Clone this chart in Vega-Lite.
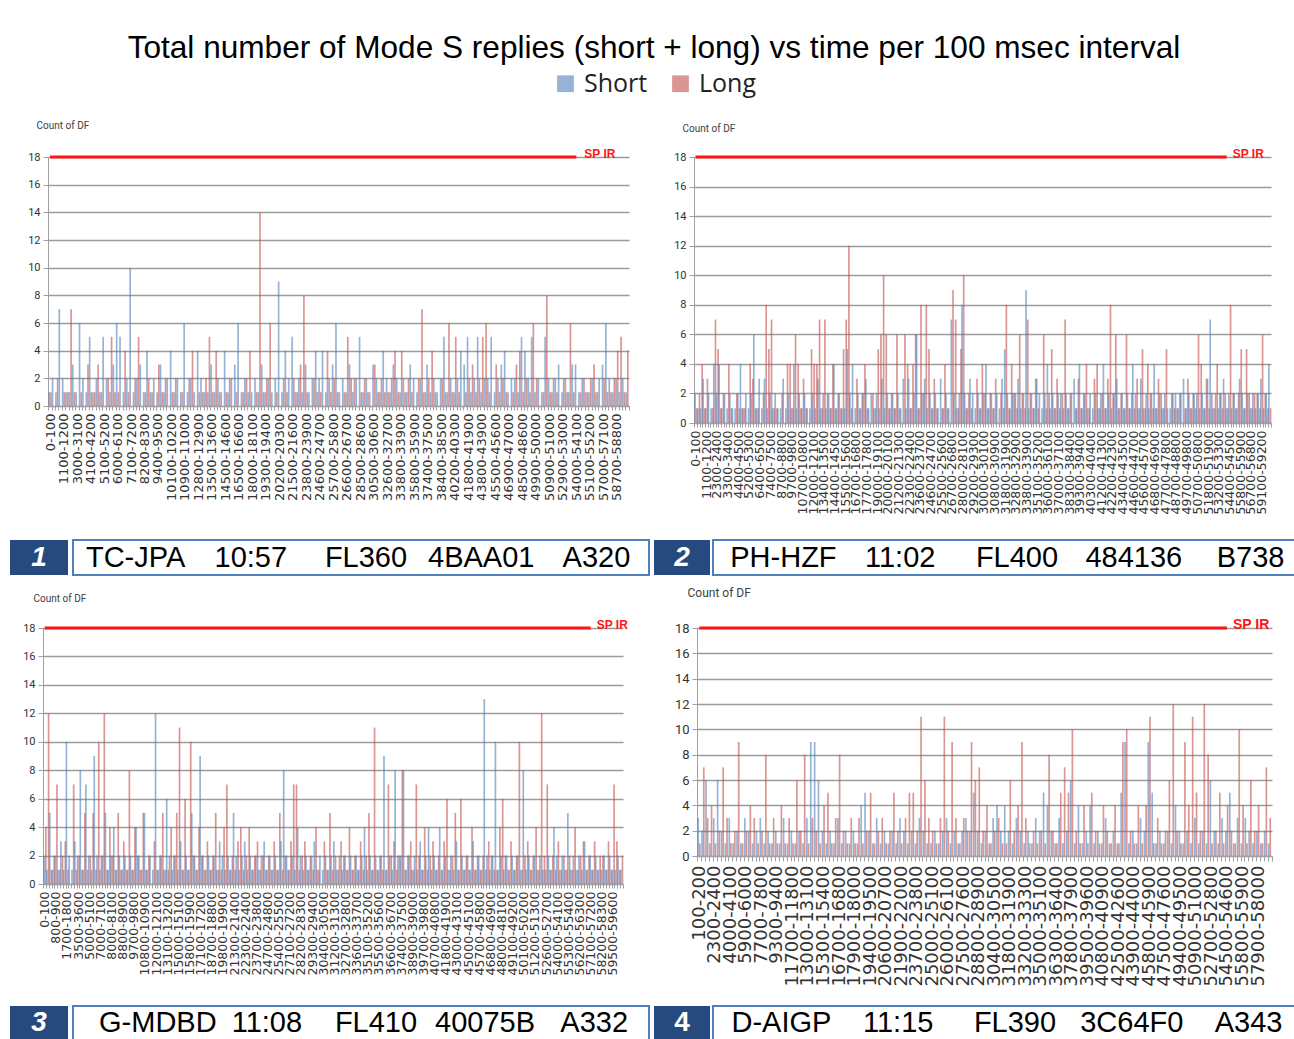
{
"$schema":"https://vega.github.io/schema/vega-lite/v6.json",
"background":"white",
"padding":{"left":10,"top":33,"right":0,"bottom":0},
"title":{"text":"Total number of Mode S replies (short + long) vs time per 100 msec interval","anchor":"middle","font":"Liberation Sans","fontSize":31.6,"fontWeight":"normal","color":"black","offset":6},
"config":{"view":{"stroke":null},"font":"Liberation Sans","axis":{"domainColor":"#A0A0A0","tickColor":"#A0A0A0","labelColor":"#333333"},"axisY":{"labelOverlap":false,"grid":true,"gridColor":"#9C9C9C","gridWidth":1.5,"tickSize":5,"tickCount":10,"labelFont":"Roboto","labelPadding":3,"titleAngle":0,"titleAlign":"left","titleBaseline":"middle","titleFont":"Roboto","titleFontWeight":"normal","titleColor":"#404040"},"legend":{"layout":{"top":{"anchor":"middle"}}}},
"datasets":{
"p1":[{"i":0,"s":1,"l":1},{"i":1,"s":2,"l":0},{"i":2,"s":1,"l":2},{"i":3,"s":7,"l":0},{"i":4,"s":2,"l":1},{"i":5,"s":1,"l":1},{"i":6,"s":1,"l":7},{"i":7,"s":3,"l":1},{"i":8,"s":1,"l":0},{"i":9,"s":6,"l":1},
{"i":10,"s":2,"l":0},{"i":11,"s":1,"l":3},{"i":12,"s":5,"l":1},{"i":13,"s":1,"l":1},{"i":14,"s":2,"l":3},{"i":15,"s":1,"l":1},{"i":16,"s":5,"l":0},{"i":17,"s":2,"l":2},{"i":18,"s":1,"l":5},{"i":19,"s":3,"l":1},
{"i":20,"s":6,"l":1},{"i":21,"s":5,"l":0},{"i":22,"s":1,"l":4},{"i":23,"s":2,"l":1},{"i":24,"s":10,"l":0},{"i":25,"s":1,"l":2},{"i":26,"s":2,"l":5},{"i":27,"s":3,"l":0},{"i":28,"s":1,"l":1},{"i":29,"s":4,"l":2},
{"i":30,"s":1,"l":1},{"i":31,"s":2,"l":0},{"i":32,"s":1,"l":3},{"i":33,"s":3,"l":1},{"i":34,"s":1,"l":2},{"i":35,"s":2,"l":0},{"i":36,"s":4,"l":1},{"i":37,"s":1,"l":2},{"i":38,"s":2,"l":0},{"i":39,"s":1,"l":1},
{"i":40,"s":6,"l":0},{"i":41,"s":1,"l":2},{"i":42,"s":2,"l":4},{"i":43,"s":1,"l":0},{"i":44,"s":4,"l":1},{"i":45,"s":2,"l":1},{"i":46,"s":1,"l":2},{"i":47,"s":1,"l":5},{"i":48,"s":3,"l":1},{"i":49,"s":1,"l":4},
{"i":50,"s":2,"l":1},{"i":51,"s":1,"l":0},{"i":52,"s":4,"l":1},{"i":53,"s":1,"l":2},{"i":54,"s":2,"l":0},{"i":55,"s":3,"l":1},{"i":56,"s":6,"l":0},{"i":57,"s":1,"l":1},{"i":58,"s":2,"l":2},{"i":59,"s":1,"l":4},
{"i":60,"s":1,"l":0},{"i":61,"s":2,"l":1},{"i":62,"s":1,"l":14},{"i":63,"s":3,"l":1},{"i":64,"s":1,"l":2},{"i":65,"s":2,"l":6},{"i":66,"s":1,"l":0},{"i":67,"s":2,"l":1},{"i":68,"s":9,"l":0},{"i":69,"s":1,"l":2},
{"i":70,"s":4,"l":1},{"i":71,"s":2,"l":0},{"i":72,"s":5,"l":2},{"i":73,"s":1,"l":1},{"i":74,"s":2,"l":3},{"i":75,"s":1,"l":8},{"i":76,"s":3,"l":1},{"i":77,"s":1,"l":0},{"i":78,"s":2,"l":2},{"i":79,"s":4,"l":1},
{"i":80,"s":2,"l":1},{"i":81,"s":4,"l":0},{"i":82,"s":1,"l":4},{"i":83,"s":2,"l":1},{"i":84,"s":3,"l":2},{"i":85,"s":6,"l":1},{"i":86,"s":1,"l":0},{"i":87,"s":2,"l":1},{"i":88,"s":1,"l":5},{"i":89,"s":3,"l":2},
{"i":90,"s":1,"l":2},{"i":91,"s":2,"l":0},{"i":92,"s":5,"l":1},{"i":93,"s":1,"l":2},{"i":94,"s":2,"l":1},{"i":95,"s":1,"l":0},{"i":96,"s":3,"l":3},{"i":97,"s":2,"l":1},{"i":98,"s":1,"l":2},{"i":99,"s":4,"l":1},
{"i":100,"s":2,"l":1},{"i":101,"s":1,"l":2},{"i":102,"s":3,"l":4},{"i":103,"s":2,"l":1},{"i":104,"s":1,"l":4},{"i":105,"s":2,"l":1},{"i":106,"s":1,"l":2},{"i":107,"s":3,"l":1},{"i":108,"s":2,"l":0},{"i":109,"s":1,"l":2},
{"i":110,"s":2,"l":7},{"i":111,"s":1,"l":1},{"i":112,"s":3,"l":2},{"i":113,"s":1,"l":4},{"i":114,"s":2,"l":1},{"i":115,"s":1,"l":0},{"i":116,"s":2,"l":2},{"i":117,"s":5,"l":1},{"i":118,"s":1,"l":6},{"i":119,"s":2,"l":1},
{"i":120,"s":1,"l":5},{"i":121,"s":2,"l":1},{"i":122,"s":4,"l":0},{"i":123,"s":3,"l":1},{"i":124,"s":5,"l":2},{"i":125,"s":1,"l":3},{"i":126,"s":2,"l":1},{"i":127,"s":5,"l":2},{"i":128,"s":1,"l":5},{"i":129,"s":2,"l":6},
{"i":130,"s":2,"l":1},{"i":131,"s":5,"l":0},{"i":132,"s":1,"l":3},{"i":133,"s":2,"l":1},{"i":134,"s":3,"l":2},{"i":135,"s":4,"l":1},{"i":136,"s":1,"l":0},{"i":137,"s":2,"l":1},{"i":138,"s":2,"l":3},{"i":139,"s":1,"l":4},
{"i":140,"s":5,"l":1},{"i":141,"s":4,"l":2},{"i":142,"s":2,"l":1},{"i":143,"s":5,"l":6},{"i":144,"s":1,"l":2},{"i":145,"s":2,"l":0},{"i":146,"s":1,"l":1},{"i":147,"s":5,"l":8},{"i":148,"s":2,"l":1},{"i":149,"s":1,"l":2},
{"i":150,"s":2,"l":1},{"i":151,"s":3,"l":0},{"i":152,"s":1,"l":2},{"i":153,"s":2,"l":1},{"i":154,"s":1,"l":6},{"i":155,"s":3,"l":1},{"i":156,"s":3,"l":0},{"i":157,"s":1,"l":1},{"i":158,"s":2,"l":2},{"i":159,"s":1,"l":1},
{"i":160,"s":1,"l":2},{"i":161,"s":2,"l":3},{"i":162,"s":1,"l":1},{"i":163,"s":2,"l":0},{"i":164,"s":3,"l":2},{"i":165,"s":6,"l":1},{"i":166,"s":2,"l":1},{"i":167,"s":1,"l":2},{"i":168,"s":2,"l":4},{"i":169,"s":1,"l":5},
{"i":170,"s":2,"l":1},{"i":171,"s":1,"l":4}],
"p2":[{"i":0,"s":2,"l":1},{"i":1,"s":1,"l":2},{"i":2,"s":1,"l":4},{"i":3,"s":3,"l":1},{"i":4,"s":1,"l":3},{"i":5,"s":2,"l":0},{"i":6,"s":1,"l":1},{"i":7,"s":4,"l":7},{"i":8,"s":2,"l":5},{"i":9,"s":4,"l":1},
{"i":10,"s":1,"l":2},{"i":11,"s":2,"l":0},{"i":12,"s":1,"l":4},{"i":13,"s":2,"l":1},{"i":14,"s":1,"l":0},{"i":15,"s":1,"l":2},{"i":16,"s":2,"l":1},{"i":17,"s":4,"l":1},{"i":18,"s":1,"l":1},{"i":19,"s":2,"l":0},
{"i":20,"s":1,"l":4},{"i":21,"s":2,"l":3},{"i":22,"s":6,"l":1},{"i":23,"s":1,"l":1},{"i":24,"s":3,"l":0},{"i":25,"s":1,"l":2},{"i":26,"s":3,"l":8},{"i":27,"s":1,"l":5},{"i":28,"s":2,"l":7},{"i":29,"s":1,"l":1},
{"i":30,"s":2,"l":1},{"i":31,"s":1,"l":0},{"i":32,"s":1,"l":2},{"i":33,"s":3,"l":0},{"i":34,"s":1,"l":4},{"i":35,"s":2,"l":4},{"i":36,"s":1,"l":1},{"i":37,"s":4,"l":6},{"i":38,"s":1,"l":4},{"i":39,"s":2,"l":1},
{"i":40,"s":1,"l":3},{"i":41,"s":2,"l":1},{"i":42,"s":1,"l":0},{"i":43,"s":1,"l":5},{"i":44,"s":2,"l":4},{"i":45,"s":1,"l":4},{"i":46,"s":3,"l":7},{"i":47,"s":1,"l":1},{"i":48,"s":2,"l":7},{"i":49,"s":1,"l":2},
{"i":50,"s":2,"l":1},{"i":51,"s":1,"l":4},{"i":52,"s":4,"l":1},{"i":53,"s":1,"l":2},{"i":54,"s":2,"l":1},{"i":55,"s":1,"l":5},{"i":56,"s":1,"l":7},{"i":57,"s":5,"l":12},{"i":58,"s":2,"l":1},{"i":59,"s":4,"l":0},
{"i":60,"s":1,"l":3},{"i":61,"s":2,"l":1},{"i":62,"s":1,"l":2},{"i":63,"s":2,"l":4},{"i":64,"s":3,"l":1},{"i":65,"s":1,"l":0},{"i":66,"s":2,"l":2},{"i":67,"s":1,"l":1},{"i":68,"s":2,"l":5},{"i":69,"s":1,"l":6},
{"i":70,"s":3,"l":10},{"i":71,"s":1,"l":6},{"i":72,"s":2,"l":1},{"i":73,"s":1,"l":2},{"i":74,"s":2,"l":1},{"i":75,"s":1,"l":6},{"i":76,"s":2,"l":1},{"i":77,"s":1,"l":0},{"i":78,"s":3,"l":6},{"i":79,"s":1,"l":4},
{"i":80,"s":3,"l":1},{"i":81,"s":1,"l":4},{"i":82,"s":2,"l":6},{"i":83,"s":6,"l":1},{"i":84,"s":1,"l":8},{"i":85,"s":2,"l":2},{"i":86,"s":3,"l":8},{"i":87,"s":1,"l":5},{"i":88,"s":2,"l":1},{"i":89,"s":1,"l":3},
{"i":90,"s":2,"l":1},{"i":91,"s":1,"l":0},{"i":92,"s":3,"l":1},{"i":93,"s":1,"l":4},{"i":94,"s":2,"l":1},{"i":95,"s":1,"l":0},{"i":96,"s":7,"l":9},{"i":97,"s":2,"l":7},{"i":98,"s":1,"l":1},{"i":99,"s":2,"l":5},
{"i":100,"s":8,"l":10},{"i":101,"s":2,"l":1},{"i":102,"s":1,"l":2},{"i":103,"s":3,"l":1},{"i":104,"s":2,"l":0},{"i":105,"s":1,"l":3},{"i":106,"s":2,"l":1},{"i":107,"s":1,"l":4},{"i":108,"s":2,"l":2},{"i":109,"s":4,"l":1},
{"i":110,"s":1,"l":2},{"i":111,"s":2,"l":1},{"i":112,"s":1,"l":3},{"i":113,"s":2,"l":0},{"i":114,"s":1,"l":2},{"i":115,"s":3,"l":1},{"i":116,"s":5,"l":8},{"i":117,"s":2,"l":1},{"i":118,"s":1,"l":4},{"i":119,"s":2,"l":2},
{"i":120,"s":2,"l":1},{"i":121,"s":3,"l":6},{"i":122,"s":1,"l":2},{"i":123,"s":2,"l":1},{"i":124,"s":9,"l":7},{"i":125,"s":1,"l":2},{"i":126,"s":2,"l":1},{"i":127,"s":1,"l":3},{"i":128,"s":3,"l":1},{"i":129,"s":2,"l":0},
{"i":130,"s":1,"l":6},{"i":131,"s":2,"l":1},{"i":132,"s":4,"l":2},{"i":133,"s":1,"l":5},{"i":134,"s":2,"l":1},{"i":135,"s":1,"l":3},{"i":136,"s":2,"l":1},{"i":137,"s":2,"l":2},{"i":138,"s":1,"l":7},{"i":139,"s":2,"l":1},
{"i":140,"s":1,"l":2},{"i":141,"s":2,"l":0},{"i":142,"s":3,"l":1},{"i":143,"s":1,"l":3},{"i":144,"s":4,"l":1},{"i":145,"s":1,"l":2},{"i":146,"s":2,"l":4},{"i":147,"s":1,"l":1},{"i":148,"s":2,"l":0},{"i":149,"s":1,"l":3},
{"i":150,"s":2,"l":4},{"i":151,"s":1,"l":1},{"i":152,"s":2,"l":2},{"i":153,"s":4,"l":1},{"i":154,"s":1,"l":3},{"i":155,"s":2,"l":8},{"i":156,"s":1,"l":2},{"i":157,"s":2,"l":6},{"i":158,"s":3,"l":1},{"i":159,"s":1,"l":2},
{"i":160,"s":2,"l":1},{"i":161,"s":1,"l":6},{"i":162,"s":2,"l":1},{"i":163,"s":1,"l":2},{"i":164,"s":4,"l":1},{"i":165,"s":2,"l":3},{"i":166,"s":1,"l":1},{"i":167,"s":3,"l":5},{"i":168,"s":1,"l":1},{"i":169,"s":2,"l":4},
{"i":170,"s":1,"l":2},{"i":171,"s":2,"l":1},{"i":172,"s":4,"l":1},{"i":173,"s":1,"l":3},{"i":174,"s":2,"l":2},{"i":175,"s":1,"l":1},{"i":176,"s":2,"l":5},{"i":177,"s":1,"l":0},{"i":178,"s":1,"l":2},{"i":179,"s":2,"l":1},
{"i":180,"s":2,"l":1},{"i":181,"s":1,"l":2},{"i":182,"s":2,"l":0},{"i":183,"s":3,"l":1},{"i":184,"s":1,"l":3},{"i":185,"s":2,"l":1},{"i":186,"s":1,"l":2},{"i":187,"s":2,"l":1},{"i":188,"s":2,"l":6},{"i":189,"s":1,"l":4},
{"i":190,"s":2,"l":1},{"i":191,"s":1,"l":3},{"i":192,"s":3,"l":1},{"i":193,"s":7,"l":2},{"i":194,"s":1,"l":1},{"i":195,"s":2,"l":4},{"i":196,"s":1,"l":2},{"i":197,"s":2,"l":1},{"i":198,"s":3,"l":2},{"i":199,"s":1,"l":1},
{"i":200,"s":2,"l":8},{"i":201,"s":1,"l":2},{"i":202,"s":2,"l":1},{"i":203,"s":1,"l":2},{"i":204,"s":3,"l":5},{"i":205,"s":2,"l":1},{"i":206,"s":1,"l":5},{"i":207,"s":2,"l":2},{"i":208,"s":1,"l":1},{"i":209,"s":2,"l":2},
{"i":210,"s":1,"l":2},{"i":211,"s":2,"l":1},{"i":212,"s":3,"l":6},{"i":213,"s":1,"l":2},{"i":214,"s":2,"l":1},{"i":215,"s":4,"l":1}],
"p3":[{"i":0,"s":2,"l":4},{"i":1,"s":1,"l":12},{"i":2,"s":5,"l":1},{"i":3,"s":1,"l":2},{"i":4,"s":2,"l":7},{"i":5,"s":1,"l":1},{"i":6,"s":3,"l":2},{"i":7,"s":1,"l":3},{"i":8,"s":10,"l":1},{"i":9,"s":2,"l":0},
{"i":10,"s":1,"l":7},{"i":11,"s":3,"l":1},{"i":12,"s":2,"l":2},{"i":13,"s":8,"l":1},{"i":14,"s":1,"l":5},{"i":15,"s":7,"l":1},{"i":16,"s":2,"l":2},{"i":17,"s":1,"l":5},{"i":18,"s":9,"l":1},{"i":19,"s":2,"l":10},
{"i":20,"s":1,"l":2},{"i":21,"s":2,"l":12},{"i":22,"s":5,"l":1},{"i":23,"s":1,"l":4},{"i":24,"s":2,"l":2},{"i":25,"s":4,"l":1},{"i":26,"s":1,"l":5},{"i":27,"s":2,"l":1},{"i":28,"s":1,"l":3},{"i":29,"s":2,"l":1},
{"i":30,"s":1,"l":8},{"i":31,"s":2,"l":1},{"i":32,"s":1,"l":4},{"i":33,"s":4,"l":2},{"i":34,"s":2,"l":1},{"i":35,"s":1,"l":5},{"i":36,"s":5,"l":1},{"i":37,"s":1,"l":2},{"i":38,"s":2,"l":0},{"i":39,"s":1,"l":3},
{"i":40,"s":12,"l":1},{"i":41,"s":1,"l":2},{"i":42,"s":2,"l":5},{"i":43,"s":1,"l":1},{"i":44,"s":6,"l":1},{"i":45,"s":2,"l":4},{"i":46,"s":1,"l":2},{"i":47,"s":2,"l":5},{"i":48,"s":1,"l":11},{"i":49,"s":3,"l":1},
{"i":50,"s":1,"l":6},{"i":51,"s":2,"l":1},{"i":52,"s":1,"l":10},{"i":53,"s":5,"l":2},{"i":54,"s":2,"l":1},{"i":55,"s":1,"l":4},{"i":56,"s":9,"l":2},{"i":57,"s":2,"l":1},{"i":58,"s":1,"l":3},{"i":59,"s":2,"l":1},
{"i":60,"s":1,"l":2},{"i":61,"s":2,"l":5},{"i":62,"s":1,"l":1},{"i":63,"s":3,"l":1},{"i":64,"s":2,"l":4},{"i":65,"s":1,"l":7},{"i":66,"s":2,"l":1},{"i":67,"s":1,"l":2},{"i":68,"s":5,"l":1},{"i":69,"s":2,"l":3},
{"i":70,"s":1,"l":4},{"i":71,"s":2,"l":1},{"i":72,"s":3,"l":2},{"i":73,"s":1,"l":4},{"i":74,"s":2,"l":1},{"i":75,"s":1,"l":2},{"i":76,"s":2,"l":3},{"i":77,"s":1,"l":1},{"i":78,"s":2,"l":2},{"i":79,"s":3,"l":1},
{"i":80,"s":1,"l":2},{"i":81,"s":2,"l":1},{"i":82,"s":1,"l":3},{"i":83,"s":2,"l":1},{"i":84,"s":1,"l":5},{"i":85,"s":3,"l":1},{"i":86,"s":8,"l":2},{"i":87,"s":2,"l":1},{"i":88,"s":1,"l":3},{"i":89,"s":2,"l":7},
{"i":90,"s":1,"l":7},{"i":91,"s":4,"l":1},{"i":92,"s":2,"l":2},{"i":93,"s":1,"l":3},{"i":94,"s":2,"l":1},{"i":95,"s":1,"l":2},{"i":96,"s":2,"l":1},{"i":97,"s":3,"l":4},{"i":98,"s":1,"l":1},{"i":99,"s":2,"l":0},
{"i":100,"s":1,"l":3},{"i":101,"s":2,"l":1},{"i":102,"s":1,"l":5},{"i":103,"s":2,"l":1},{"i":104,"s":3,"l":2},{"i":105,"s":1,"l":1},{"i":106,"s":2,"l":3},{"i":107,"s":1,"l":2},{"i":108,"s":2,"l":1},{"i":109,"s":1,"l":4},
{"i":110,"s":2,"l":1},{"i":111,"s":1,"l":2},{"i":112,"s":2,"l":1},{"i":113,"s":1,"l":3},{"i":114,"s":2,"l":1},{"i":115,"s":4,"l":2},{"i":116,"s":1,"l":5},{"i":117,"s":2,"l":1},{"i":118,"s":1,"l":11},{"i":119,"s":2,"l":1},
{"i":120,"s":1,"l":2},{"i":121,"s":2,"l":1},{"i":122,"s":9,"l":1},{"i":123,"s":1,"l":7},{"i":124,"s":2,"l":2},{"i":125,"s":1,"l":3},{"i":126,"s":8,"l":1},{"i":127,"s":2,"l":2},{"i":128,"s":2,"l":8},{"i":129,"s":8,"l":1},
{"i":130,"s":1,"l":2},{"i":131,"s":2,"l":3},{"i":132,"s":1,"l":1},{"i":133,"s":2,"l":7},{"i":134,"s":1,"l":2},{"i":135,"s":3,"l":1},{"i":136,"s":1,"l":4},{"i":137,"s":2,"l":1},{"i":138,"s":4,"l":2},{"i":139,"s":1,"l":3},
{"i":140,"s":2,"l":1},{"i":141,"s":1,"l":2},{"i":142,"s":4,"l":1},{"i":143,"s":1,"l":3},{"i":144,"s":2,"l":6},{"i":145,"s":1,"l":1},{"i":146,"s":2,"l":2},{"i":147,"s":1,"l":5},{"i":148,"s":3,"l":1},{"i":149,"s":1,"l":6},
{"i":150,"s":2,"l":1},{"i":151,"s":1,"l":2},{"i":152,"s":2,"l":1},{"i":153,"s":1,"l":4},{"i":154,"s":3,"l":1},{"i":155,"s":1,"l":2},{"i":156,"s":2,"l":1},{"i":157,"s":1,"l":2},{"i":158,"s":13,"l":1},{"i":159,"s":2,"l":3},
{"i":160,"s":1,"l":2},{"i":161,"s":2,"l":1},{"i":162,"s":10,"l":1},{"i":163,"s":1,"l":4},{"i":164,"s":2,"l":6},{"i":165,"s":1,"l":2},{"i":166,"s":2,"l":1},{"i":167,"s":1,"l":3},{"i":168,"s":2,"l":1},{"i":169,"s":1,"l":2},
{"i":170,"s":2,"l":10},{"i":171,"s":1,"l":1},{"i":172,"s":8,"l":2},{"i":173,"s":1,"l":3},{"i":174,"s":2,"l":1},{"i":175,"s":1,"l":2},{"i":176,"s":2,"l":4},{"i":177,"s":1,"l":1},{"i":178,"s":2,"l":12},{"i":179,"s":1,"l":2},
{"i":180,"s":1,"l":7},{"i":181,"s":2,"l":1},{"i":182,"s":1,"l":2},{"i":183,"s":4,"l":1},{"i":184,"s":2,"l":3},{"i":185,"s":1,"l":1},{"i":186,"s":2,"l":2},{"i":187,"s":1,"l":1},{"i":188,"s":5,"l":2},{"i":189,"s":1,"l":1},
{"i":190,"s":2,"l":4},{"i":191,"s":1,"l":1},{"i":192,"s":2,"l":2},{"i":193,"s":1,"l":3},{"i":194,"s":3,"l":1},{"i":195,"s":1,"l":2},{"i":196,"s":2,"l":1},{"i":197,"s":1,"l":3},{"i":198,"s":2,"l":1},{"i":199,"s":1,"l":2},
{"i":200,"s":1,"l":2},{"i":201,"s":2,"l":1},{"i":202,"s":1,"l":3},{"i":203,"s":2,"l":1},{"i":204,"s":1,"l":7},{"i":205,"s":1,"l":3},{"i":206,"s":2,"l":1},{"i":207,"s":1,"l":2}],
"p4":[{"i":0,"s":3,"l":1},{"i":1,"s":2,"l":7},{"i":2,"s":6,"l":3},{"i":3,"s":1,"l":4},{"i":4,"s":3,"l":1},{"i":5,"s":6,"l":2},{"i":6,"s":2,"l":7},{"i":7,"s":1,"l":3},{"i":8,"s":3,"l":1},{"i":9,"s":1,"l":2},
{"i":10,"s":2,"l":9},{"i":11,"s":1,"l":1},{"i":12,"s":3,"l":2},{"i":13,"s":2,"l":4},{"i":14,"s":1,"l":3},{"i":15,"s":2,"l":1},{"i":16,"s":3,"l":2},{"i":17,"s":1,"l":8},{"i":18,"s":2,"l":1},{"i":19,"s":1,"l":3},
{"i":20,"s":2,"l":1},{"i":21,"s":1,"l":4},{"i":22,"s":3,"l":1},{"i":23,"s":1,"l":3},{"i":24,"s":2,"l":1},{"i":25,"s":1,"l":6},{"i":26,"s":2,"l":2},{"i":27,"s":1,"l":8},{"i":28,"s":3,"l":1},{"i":29,"s":9,"l":3},
{"i":30,"s":9,"l":2},{"i":31,"s":6,"l":1},{"i":32,"s":2,"l":4},{"i":33,"s":1,"l":5},{"i":34,"s":2,"l":1},{"i":35,"s":1,"l":3},{"i":36,"s":3,"l":8},{"i":37,"s":1,"l":2},{"i":38,"s":2,"l":1},{"i":39,"s":1,"l":3},
{"i":40,"s":2,"l":1},{"i":41,"s":1,"l":3},{"i":42,"s":4,"l":1},{"i":43,"s":5,"l":2},{"i":44,"s":2,"l":5},{"i":45,"s":1,"l":1},{"i":46,"s":3,"l":2},{"i":47,"s":1,"l":3},{"i":48,"s":2,"l":1},{"i":49,"s":1,"l":2},
{"i":50,"s":2,"l":5},{"i":51,"s":1,"l":2},{"i":52,"s":3,"l":1},{"i":53,"s":2,"l":3},{"i":54,"s":1,"l":5},{"i":55,"s":2,"l":5},{"i":56,"s":1,"l":2},{"i":57,"s":3,"l":11},{"i":58,"s":2,"l":6},{"i":59,"s":1,"l":3},
{"i":60,"s":1,"l":2},{"i":61,"s":2,"l":1},{"i":62,"s":1,"l":3},{"i":63,"s":2,"l":11},{"i":64,"s":3,"l":2},{"i":65,"s":1,"l":9},{"i":66,"s":2,"l":3},{"i":67,"s":1,"l":1},{"i":68,"s":2,"l":3},{"i":69,"s":3,"l":2},
{"i":70,"s":2,"l":9},{"i":71,"s":5,"l":6},{"i":72,"s":2,"l":7},{"i":73,"s":1,"l":2},{"i":74,"s":2,"l":4},{"i":75,"s":1,"l":1},{"i":76,"s":3,"l":2},{"i":77,"s":4,"l":3},{"i":78,"s":2,"l":1},{"i":79,"s":4,"l":1},
{"i":80,"s":2,"l":6},{"i":81,"s":1,"l":2},{"i":82,"s":3,"l":4},{"i":83,"s":2,"l":9},{"i":84,"s":1,"l":3},{"i":85,"s":2,"l":1},{"i":86,"s":1,"l":2},{"i":87,"s":3,"l":1},{"i":88,"s":2,"l":2},{"i":89,"s":5,"l":1},
{"i":90,"s":4,"l":8},{"i":91,"s":2,"l":2},{"i":92,"s":1,"l":1},{"i":93,"s":3,"l":5},{"i":94,"s":1,"l":7},{"i":95,"s":2,"l":5},{"i":96,"s":6,"l":10},{"i":97,"s":1,"l":2},{"i":98,"s":4,"l":1},{"i":99,"s":1,"l":4},
{"i":100,"s":2,"l":1},{"i":101,"s":4,"l":5},{"i":102,"s":1,"l":2},{"i":103,"s":2,"l":1},{"i":104,"s":1,"l":4},{"i":105,"s":3,"l":2},{"i":106,"s":1,"l":1},{"i":107,"s":2,"l":4},{"i":108,"s":1,"l":1},{"i":109,"s":5,"l":9},
{"i":110,"s":9,"l":10},{"i":111,"s":1,"l":2},{"i":112,"s":2,"l":1},{"i":113,"s":1,"l":4},{"i":114,"s":3,"l":1},{"i":115,"s":2,"l":4},{"i":116,"s":9,"l":11},{"i":117,"s":5,"l":1},{"i":118,"s":1,"l":3},{"i":119,"s":2,"l":1},
{"i":120,"s":1,"l":2},{"i":121,"s":2,"l":6},{"i":122,"s":1,"l":12},{"i":123,"s":4,"l":2},{"i":124,"s":2,"l":1},{"i":125,"s":1,"l":9},{"i":126,"s":2,"l":4},{"i":127,"s":1,"l":11},{"i":128,"s":3,"l":5},{"i":129,"s":1,"l":2},
{"i":130,"s":2,"l":12},{"i":131,"s":1,"l":8},{"i":132,"s":6,"l":1},{"i":133,"s":2,"l":2},{"i":134,"s":1,"l":5},{"i":135,"s":3,"l":1},{"i":136,"s":2,"l":4},{"i":137,"s":5,"l":2},{"i":138,"s":1,"l":1},{"i":139,"s":3,"l":10},
{"i":140,"s":1,"l":4},{"i":141,"s":3,"l":1},{"i":142,"s":2,"l":6},{"i":143,"s":1,"l":2},{"i":144,"s":2,"l":4},{"i":145,"s":1,"l":1},{"i":146,"s":2,"l":7},{"i":147,"s":1,"l":3}]
},
"spacing":10,
"vconcat":[
{"spacing":24,"vconcat":[
 {"spacing":16,"hconcat":[
  {"width":1,"height":1,"data":{"values":[{}]},"mark":{"type":"text","text":""}},
  {"spacing":39,"hconcat":[
  {"width":581,"height":249,"layer":[
   {"data":{"name":"p1"},"transform":[{"fold":["s","l"],"as":["k","v"]}],"mark":{"type":"bar","opacity":0.6},
    "encoding":{
     "x":{"field":"i","type":"ordinal","scale":{"paddingInner":0,"paddingOuter":0.1},"axis":{"title":null,"labelAngle":-90,"labelFont":"DejaVu Sans","labelFontSize":13,"labelPadding":3,"tickSize":4,"tickBand":"extent","labelOverlap":false,"labelExpr":"datum.value % 4 ? '' : ['0-100','1100-1200','3000-3100','4100-4200','5100-5200','6000-6100','7100-7200','8200-8300','9400-9500','10100-10200','10900-11000','12800-12900','13500-13600','14500-14600','16500-16600','18000-18100','19300-19400','20200-20300','21500-21600','23800-23900','24600-24700','25700-25800','26600-26700','28500-28600','30500-30600','32600-32700','33800-33900','35800-35900','37400-37500','38400-38500','40200-40300','41800-41900','43800-43900','45500-45600','46900-47000','48500-48600','49900-50000','50900-51000','52900-53000','54000-54100','55100-55200','57000-57100','58700-58800'][datum.value/4]"}},
     "xOffset":{"field":"k","type":"nominal","scale":{"domain":["s","l"]}},
     "y":{"field":"v","type":"quantitative","scale":{"domain":[0,18],"nice":false},"axis":{"values":[0,2,4,6,8,10,12,14,16,18],"labelFontSize":11,"title":"Count of DF","titleX":-12,"titleY":-32,"titleFontSize":10,"minExtent":20}},
     "color":{"field":"k","type":"nominal","scale":{"domain":["s","l"],"range":["#4F81BD","#C0504D"]},"legend":{"orient":"top","direction":"horizontal","offset":23,"title":null,"labelExpr":"datum.label == 's' ? 'Short' : 'Long'","labelFont":"Open Sans","labelFontSize":25,"labelColor":"#222222","symbolType":"square","symbolSize":280,"symbolOpacity":1,"symbolStrokeWidth":0,"columnPadding":20,"labelOffset":6}}}},
   {"data":{"values":[{"y":18,"a":0,"b":156,"t":"SP IR"}]},"mark":{"type":"rule","color":"#FF1414","strokeWidth":3},"encoding":{"x":{"field":"a","type":"ordinal"},"x2":{"field":"b"},"y":{"field":"y","type":"quantitative","axis":{"values":[0,2,4,6,8,10,12,14,16,18],"labelFontSize":11,"title":"Count of DF","titleX":-12,"titleY":-32,"titleFontSize":10,"minExtent":20}}}},
   {"data":{"values":[{"y":18,"a":0,"b":156,"t":"SP IR"}]},"mark":{"type":"text","color":"#FF1414","align":"left","baseline":"alphabetic","dx":8,"dy":1,"font":"Liberation Sans","fontWeight":"bold","fontSize":12},"encoding":{"x":{"field":"b","type":"ordinal"},"y":{"field":"y","type":"quantitative","axis":{"values":[0,2,4,6,8,10,12,14,16,18],"labelFontSize":11,"title":"Count of DF","titleX":-12,"titleY":-32,"titleFontSize":10,"minExtent":20}},"text":{"field":"t"}}}
  ]},
  {"width":577,"height":266,"layer":[
   {"data":{"name":"p2"},"transform":[{"fold":["s","l"],"as":["k","v"]}],"mark":{"type":"bar","opacity":0.6},
    "encoding":{
     "x":{"field":"i","type":"ordinal","scale":{"paddingInner":0,"paddingOuter":0.1},"axis":{"title":null,"labelAngle":-90,"labelFont":"DejaVu Sans","labelFontSize":12.5,"labelPadding":3,"tickSize":4,"tickBand":"extent","labelOverlap":false,"labelExpr":"datum.value % 4 ? '' : ['0-100','1100-1200','2300-2400','3300-3400','4400-4500','5200-5300','6400-6500','7400-7500','8700-8800','9700-9800','10700-10800','12000-12100','13400-13500','14400-14500','15500-15600','16700-16800','17700-17800','19000-19100','20000-20100','21200-21300','22300-22400','23600-23700','24600-24700','25500-25600','26700-26800','28000-28100','29200-29300','30000-30100','30800-30900','31800-31900','32800-32900','33800-33900','35100-35200','36000-36100','37000-37100','38300-38400','39300-39400','40300-40400','41200-41300','42200-42300','43400-43500','44600-44700','45600-45700','46800-46900','47700-47800','48700-48800','49700-49800','50700-50800','51800-51900','53200-53300','54400-54500','55800-55900','56700-56800','59100-59200'][datum.value/4]"}},
     "xOffset":{"field":"k","type":"nominal","scale":{"domain":["s","l"]}},
     "y":{"field":"v","type":"quantitative","scale":{"domain":[0,18],"nice":false},"axis":{"values":[0,2,4,6,8,10,12,14,16,18],"labelFontSize":11,"title":"Count of DF","titleX":-12,"titleY":-29,"titleFontSize":10,"minExtent":20}},
     "color":{"field":"k","type":"nominal","scale":{"domain":["s","l"],"range":["#4F81BD","#C0504D"]}}}},
   {"data":{"values":[{"y":18,"a":0,"b":199,"t":"SP IR"}]},"mark":{"type":"rule","color":"#FF1414","strokeWidth":3},"encoding":{"x":{"field":"a","type":"ordinal"},"x2":{"field":"b"},"y":{"field":"y","type":"quantitative","axis":{"values":[0,2,4,6,8,10,12,14,16,18],"labelFontSize":11,"title":"Count of DF","titleX":-12,"titleY":-29,"titleFontSize":10,"minExtent":20}}}},
   {"data":{"values":[{"y":18,"a":0,"b":199,"t":"SP IR"}]},"mark":{"type":"text","color":"#FF1414","align":"left","baseline":"alphabetic","dx":6,"dy":1,"font":"Liberation Sans","fontWeight":"bold","fontSize":12},"encoding":{"x":{"field":"b","type":"ordinal"},"y":{"field":"y","type":"quantitative","axis":{"values":[0,2,4,6,8,10,12,14,16,18],"labelFontSize":11,"title":"Count of DF","titleX":-12,"titleY":-29,"titleFontSize":10,"minExtent":20}},"text":{"field":"t"}}}
  ]}
  ]}
 ]},
 {"spacing":4,"hconcat":[
  {"spacing":4,"hconcat":[
   {"width":58,"height":35,"view":{"fill":"#264A7E","stroke":null},"data":{"values":[{"n":"1"}]},"mark":{"type":"text","color":"white","font":"Liberation Sans","fontSize":28,"fontStyle":"italic","fontWeight":"bold"},"encoding":{"text":{"field":"n"}}},
   {"width":576,"height":35,"view":{"fill":"white","stroke":"#4F7FBF","strokeWidth":2},"data":{"values":[{"c":0,"t":"TC-JPA"},{"c":1,"t":"10:57"},{"c":2,"t":"FL360"},{"c":3,"t":"4BAA01"},{"c":4,"t":"A320"}]},"mark":{"type":"text","color":"black","font":"Liberation Sans","fontSize":29,"dx":5},"encoding":{"x":{"field":"c","type":"ordinal","axis":null},"text":{"field":"t"}}}
  ]},
  {"spacing":2,"hconcat":[
   {"width":56,"height":35,"view":{"fill":"#264A7E","stroke":null},"data":{"values":[{"n":"2"}]},"mark":{"type":"text","color":"white","font":"Liberation Sans","fontSize":28,"fontStyle":"italic","fontWeight":"bold"},"encoding":{"text":{"field":"n"}}},
   {"width":584,"height":35,"view":{"fill":"white","stroke":"#4F7FBF","strokeWidth":2},"data":{"values":[{"c":0,"t":"PH-HZF"},{"c":1,"t":"11:02"},{"c":2,"t":"FL400"},{"c":3,"t":"484136"},{"c":4,"t":"B738"}]},"mark":{"type":"text","color":"black","font":"Liberation Sans","fontSize":29,"dx":12},"encoding":{"x":{"field":"c","type":"ordinal","axis":null},"text":{"field":"t"}}}
  ]}
 ]}
]},
{"spacing":18,"vconcat":[
 {"spacing":11,"hconcat":[
  {"width":1,"height":1,"data":{"values":[{}]},"mark":{"type":"text","text":""}},
  {"spacing":45,"hconcat":[
  {"width":580,"height":256,"layer":[
   {"data":{"name":"p3"},"transform":[{"fold":["s","l"],"as":["k","v"]}],"mark":{"type":"bar","opacity":0.6},
    "encoding":{
     "x":{"field":"i","type":"ordinal","scale":{"paddingInner":0,"paddingOuter":0.1},"axis":{"title":null,"labelAngle":-90,"labelFont":"DejaVu Sans","labelFontSize":12.5,"labelPadding":3,"tickSize":4,"tickBand":"extent","labelOverlap":false,"labelExpr":"datum.value % 4 ? '' : ['0-100','800-900','1700-1800','3500-3600','5000-5100','7000-7100','8000-8100','8800-8900','9700-9800','10800-10900','12000-12100','13100-13200','15000-15100','15800-15900','17100-17200','18700-18800','19800-19900','21300-21400','22300-22400','23700-23800','24700-24800','25400-25500','27100-27200','28200-28300','29300-29400','30400-30500','31200-31300','32700-32800','33600-33700','35100-35200','35500-35600','36600-36700','37400-37500','38900-39000','39700-39800','40700-40800','41800-41900','43000-43100','45000-45100','45700-45800','46800-46900','48000-48100','49100-49200','50100-50200','51200-51300','52600-52700','54000-54100','55300-55400','56200-56300','57100-57200','58200-58300','59500-59600'][datum.value/4]"}},
     "xOffset":{"field":"k","type":"nominal","scale":{"domain":["s","l"]}},
     "y":{"field":"v","type":"quantitative","scale":{"domain":[0,18],"nice":false},"axis":{"values":[0,2,4,6,8,10,12,14,16,18],"labelFontSize":11,"title":"Count of DF","titleX":-10,"titleY":-30,"titleFontSize":10,"minExtent":20}},
     "color":{"field":"k","type":"nominal","scale":{"domain":["s","l"],"range":["#4F81BD","#C0504D"]}}}},
   {"data":{"values":[{"y":18,"a":0,"b":196,"t":"SP IR"}]},"mark":{"type":"rule","color":"#FF1414","strokeWidth":3},"encoding":{"x":{"field":"a","type":"ordinal"},"x2":{"field":"b"},"y":{"field":"y","type":"quantitative","axis":{"values":[0,2,4,6,8,10,12,14,16,18],"labelFontSize":11,"title":"Count of DF","titleX":-10,"titleY":-30,"titleFontSize":10,"minExtent":20}}}},
   {"data":{"values":[{"y":18,"a":0,"b":196,"t":"SP IR"}]},"mark":{"type":"text","color":"#FF1414","align":"left","baseline":"alphabetic","dx":6,"dy":1,"font":"Liberation Sans","fontWeight":"bold","fontSize":12},"encoding":{"x":{"field":"b","type":"ordinal"},"y":{"field":"y","type":"quantitative","axis":{"values":[0,2,4,6,8,10,12,14,16,18],"labelFontSize":11,"title":"Count of DF","titleX":-10,"titleY":-30,"titleFontSize":10,"minExtent":20}},"text":{"field":"t"}}}
  ]},
  {"width":575,"height":228,"layer":[
   {"data":{"name":"p4"},"transform":[{"fold":["s","l"],"as":["k","v"]}],"mark":{"type":"bar","opacity":0.6},
    "encoding":{
     "x":{"field":"i","type":"ordinal","scale":{"paddingInner":0,"paddingOuter":0.1},"axis":{"title":null,"labelAngle":-90,"labelFont":"DejaVu Sans","labelFontSize":18,"labelPadding":4,"tickSize":5,"tickBand":"extent","labelOverlap":false,"labelExpr":"datum.value % 4 ? '' : ['100-200','2300-2400','4000-4100','5900-6000','7700-7800','9300-9400','11700-11800','13000-13100','15300-15400','16700-16800','17900-18000','19400-19500','20600-20700','21900-22000','23700-23800','25000-25100','26000-26100','27500-27600','28800-28900','30400-30500','31800-31900','33200-33300','35000-35100','36300-36400','37800-37900','39500-39600','40800-40900','42500-42600','43900-44000','45800-45900','47500-47600','49400-49500','50900-51000','52700-52800','54500-54600','55800-55900','57900-58000'][datum.value/4]"}},
     "xOffset":{"field":"k","type":"nominal","scale":{"domain":["s","l"]}},
     "y":{"field":"v","type":"quantitative","scale":{"domain":[0,18],"nice":false},"axis":{"values":[0,2,4,6,8,10,12,14,16,18],"labelFontSize":13,"title":"Count of DF","titleX":-10,"titleY":-36,"titleFontSize":12,"minExtent":22}},
     "color":{"field":"k","type":"nominal","scale":{"domain":["s","l"],"range":["#4F81BD","#C0504D"]}}}},
   {"data":{"values":[{"y":18,"a":0,"b":136,"t":"SP IR"}]},"mark":{"type":"rule","color":"#FF1414","strokeWidth":3},"encoding":{"x":{"field":"a","type":"ordinal"},"x2":{"field":"b"},"y":{"field":"y","type":"quantitative","axis":{"values":[0,2,4,6,8,10,12,14,16,18],"labelFontSize":13,"title":"Count of DF","titleX":-10,"titleY":-36,"titleFontSize":12,"minExtent":22}}}},
   {"data":{"values":[{"y":18,"a":0,"b":136,"t":"SP IR"}]},"mark":{"type":"text","color":"#FF1414","align":"left","baseline":"alphabetic","dx":6,"dy":1,"font":"Liberation Sans","fontWeight":"bold","fontSize":14},"encoding":{"x":{"field":"b","type":"ordinal"},"y":{"field":"y","type":"quantitative","axis":{"values":[0,2,4,6,8,10,12,14,16,18],"labelFontSize":13,"title":"Count of DF","titleX":-10,"titleY":-36,"titleFontSize":12,"minExtent":22}},"text":{"field":"t"}}}
  ]}
  ]}
 ]},
 {"spacing":4,"hconcat":[
  {"spacing":4,"hconcat":[
   {"width":58,"height":34,"view":{"fill":"#264A7E","stroke":null},"data":{"values":[{"n":"3"}]},"mark":{"type":"text","color":"white","font":"Liberation Sans","fontSize":28,"fontStyle":"italic","fontWeight":"bold"},"encoding":{"text":{"field":"n"}}},
   {"width":576,"height":34,"view":{"fill":"white","stroke":"#4F7FBF","strokeWidth":2},"data":{"values":[{"c":0,"t":"G-MDBD"},{"c":1,"t":"11:08"},{"c":2,"t":"FL410"},{"c":3,"t":"40075B"},{"c":4,"t":"A332"}]},"mark":{"type":"text","color":"black","font":"Liberation Sans","fontSize":29,"dx":15},"encoding":{"x":{"field":"c","type":"ordinal","axis":null,"scale":{"padding":0.64}},"text":{"field":"t"}}}
  ]},
  {"spacing":2,"hconcat":[
   {"width":56,"height":34,"view":{"fill":"#264A7E","stroke":null},"data":{"values":[{"n":"4"}]},"mark":{"type":"text","color":"white","font":"Liberation Sans","fontSize":28,"fontWeight":"bold"},"encoding":{"text":{"field":"n"}}},
   {"width":584,"height":34,"view":{"fill":"white","stroke":"#4F7FBF","strokeWidth":2},"data":{"values":[{"c":0,"t":"D-AIGP"},{"c":1,"t":"11:15"},{"c":2,"t":"FL390"},{"c":3,"t":"3C64F0"},{"c":4,"t":"A343"}]},"mark":{"type":"text","color":"black","font":"Liberation Sans","fontSize":29,"dx":10},"encoding":{"x":{"field":"c","type":"ordinal","axis":null},"text":{"field":"t"}}}
  ]}
 ]}
]}
]
}
